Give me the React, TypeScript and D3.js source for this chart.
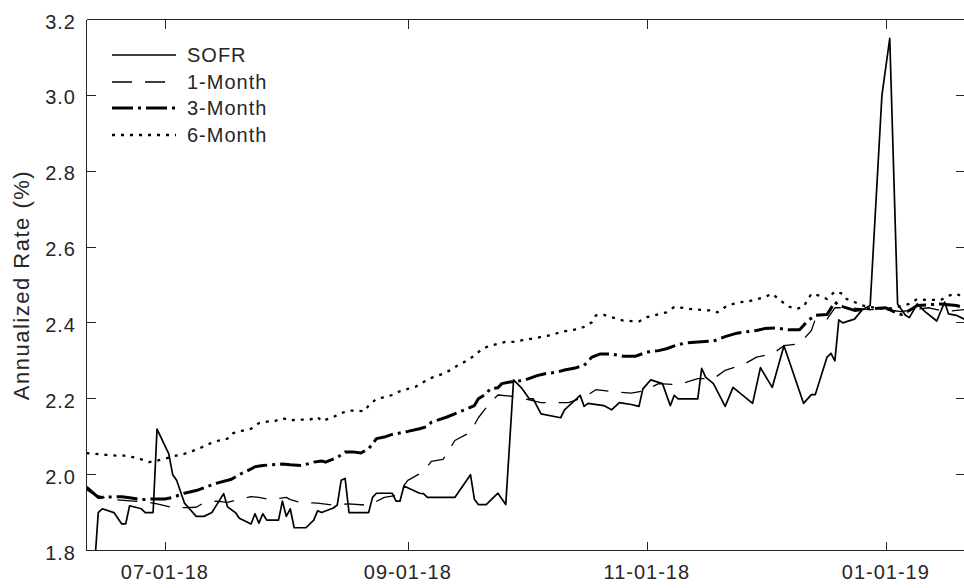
import React from "react";
import * as d3 from "d3";

// ---------- data ----------
const sofr: [string, number][] = [
  ["2018-06-11", 1.72], ["2018-06-12", 1.73], ["2018-06-13", 1.75], ["2018-06-14", 1.90],
  ["2018-06-15", 1.91], ["2018-06-18", 1.90], ["2018-06-20", 1.87], ["2018-06-21", 1.87],
  ["2018-06-22", 1.918], ["2018-06-25", 1.91], ["2018-06-26", 1.90], ["2018-06-27", 1.90],
  ["2018-06-28", 1.90], ["2018-06-29", 2.12], ["2018-07-02", 2.055], ["2018-07-03", 2.00],
  ["2018-07-04", 1.985], ["2018-07-06", 1.925], ["2018-07-09", 1.89], ["2018-07-11", 1.89],
  ["2018-07-13", 1.90], ["2018-07-16", 1.95], ["2018-07-17", 1.915], ["2018-07-19", 1.90],
  ["2018-07-20", 1.885], ["2018-07-23", 1.87], ["2018-07-24", 1.897], ["2018-07-25", 1.872],
  ["2018-07-26", 1.897], ["2018-07-27", 1.88], ["2018-07-30", 1.88], ["2018-07-31", 1.93],
  ["2018-08-01", 1.89], ["2018-08-02", 1.91], ["2018-08-03", 1.86], ["2018-08-06", 1.86],
  ["2018-08-08", 1.88], ["2018-08-09", 1.905], ["2018-08-10", 1.90], ["2018-08-13", 1.912],
  ["2018-08-14", 1.92], ["2018-08-15", 1.985], ["2018-08-16", 1.99], ["2018-08-17", 1.90],
  ["2018-08-22", 1.90], ["2018-08-23", 1.94], ["2018-08-24", 1.951], ["2018-08-28", 1.951],
  ["2018-08-29", 1.93], ["2018-08-30", 1.93], ["2018-08-31", 1.97], ["2018-09-04", 1.951],
  ["2018-09-05", 1.95], ["2018-09-06", 1.94], ["2018-09-13", 1.94], ["2018-09-17", 2.00],
  ["2018-09-18", 1.935], ["2018-09-19", 1.921], ["2018-09-21", 1.921], ["2018-09-24", 1.951],
  ["2018-09-26", 1.921], ["2018-09-28", 2.25], ["2018-09-30", 2.229], ["2018-10-02", 2.20],
  ["2018-10-03", 2.20], ["2018-10-05", 2.16], ["2018-10-10", 2.15], ["2018-10-11", 2.171],
  ["2018-10-15", 2.209], ["2018-10-16", 2.18], ["2018-10-17", 2.188], ["2018-10-21", 2.182],
  ["2018-10-23", 2.171], ["2018-10-25", 2.19], ["2018-10-28", 2.185], ["2018-10-30", 2.18],
  ["2018-10-31", 2.226], ["2018-11-02", 2.25], ["2018-11-05", 2.24], ["2018-11-07", 2.182],
  ["2018-11-08", 2.209], ["2018-11-09", 2.20], ["2018-11-14", 2.20], ["2018-11-15", 2.28],
  ["2018-11-16", 2.257], ["2018-11-18", 2.24], ["2018-11-21", 2.18], ["2018-11-23", 2.23],
  ["2018-11-28", 2.188], ["2018-11-30", 2.282], ["2018-12-03", 2.23], ["2018-12-06", 2.34],
  ["2018-12-11", 2.188], ["2018-12-13", 2.211], ["2018-12-14", 2.211], ["2018-12-17", 2.31],
  ["2018-12-18", 2.32], ["2018-12-19", 2.30], ["2018-12-20", 2.408], ["2018-12-21", 2.40],
  ["2018-12-24", 2.41], ["2018-12-26", 2.435], ["2018-12-28", 2.446], ["2018-12-31", 3.00],
  ["2019-01-02", 3.15], ["2019-01-04", 2.45], ["2019-01-06", 2.42], ["2019-01-07", 2.414],
  ["2019-01-09", 2.45], ["2019-01-11", 2.43], ["2019-01-14", 2.405], ["2019-01-16", 2.455],
  ["2019-01-17", 2.424], ["2019-01-19", 2.42], ["2019-01-21", 2.41],
];

const oneMonth: [string, number][] = [
  ["2018-06-11", 1.96], ["2018-06-13", 1.947], ["2018-06-17", 1.935], ["2018-06-23", 1.93],
  ["2018-06-27", 1.927], ["2018-06-29", 1.923], ["2018-07-03", 1.913], ["2018-07-06", 1.913],
  ["2018-07-09", 1.914], ["2018-07-11", 1.926], ["2018-07-14", 1.93], ["2018-07-17", 1.927],
  ["2018-07-19", 1.932], ["2018-07-23", 1.942], ["2018-07-25", 1.94], ["2018-07-28", 1.934],
  ["2018-08-01", 1.94], ["2018-08-02", 1.934], ["2018-08-05", 1.926], ["2018-08-09", 1.925],
  ["2018-08-12", 1.921], ["2018-08-17", 1.923], ["2018-08-22", 1.919], ["2018-08-26", 1.94],
  ["2018-08-29", 1.945], ["2018-09-01", 1.985], ["2018-09-05", 2.008], ["2018-09-07", 2.035],
  ["2018-09-10", 2.04], ["2018-09-11", 2.055], ["2018-09-13", 2.09], ["2018-09-17", 2.112],
  ["2018-09-19", 2.15], ["2018-09-22", 2.19], ["2018-09-24", 2.21], ["2018-09-29", 2.205],
  ["2018-10-02", 2.197], ["2018-10-05", 2.19], ["2018-10-08", 2.19], ["2018-10-12", 2.19],
  ["2018-10-16", 2.204], ["2018-10-19", 2.224], ["2018-10-24", 2.218], ["2018-10-28", 2.215],
  ["2018-10-31", 2.22], ["2018-11-04", 2.24], ["2018-11-09", 2.237], ["2018-11-14", 2.253],
  ["2018-11-18", 2.253], ["2018-11-21", 2.275], ["2018-11-26", 2.292], ["2018-11-29", 2.31],
  ["2018-12-03", 2.318], ["2018-12-06", 2.34], ["2018-12-10", 2.345], ["2018-12-13", 2.38],
  ["2018-12-14", 2.41], ["2018-12-17", 2.41], ["2018-12-19", 2.44], ["2018-12-23", 2.44],
  ["2018-12-28", 2.435], ["2019-01-01", 2.435], ["2019-01-05", 2.43], ["2019-01-08", 2.435],
  ["2019-01-12", 2.44], ["2019-01-16", 2.43], ["2019-01-21", 2.435],
];

const threeMonth: [string, number][] = [
  ["2018-06-11", 1.967], ["2018-06-14", 1.94], ["2018-06-20", 1.942], ["2018-06-22", 1.939],
  ["2018-06-25", 1.934], ["2018-06-28", 1.936], ["2018-07-01", 1.936], ["2018-07-03", 1.94],
  ["2018-07-06", 1.951], ["2018-07-09", 1.958], ["2018-07-12", 1.969], ["2018-07-14", 1.977],
  ["2018-07-18", 1.988], ["2018-07-20", 2.0], ["2018-07-23", 2.015], ["2018-07-24", 2.021],
  ["2018-07-26", 2.024], ["2018-07-28", 2.026], ["2018-07-31", 2.028], ["2018-08-02", 2.026],
  ["2018-08-05", 2.024], ["2018-08-08", 2.033], ["2018-08-10", 2.036], ["2018-08-11", 2.033],
  ["2018-08-14", 2.045], ["2018-08-16", 2.06], ["2018-08-18", 2.06], ["2018-08-20", 2.057],
  ["2018-08-22", 2.068], ["2018-08-24", 2.095], ["2018-08-26", 2.099], ["2018-08-28", 2.106],
  ["2018-08-30", 2.11], ["2018-09-01", 2.114], ["2018-09-04", 2.121], ["2018-09-06", 2.127],
  ["2018-09-07", 2.138], ["2018-09-09", 2.145], ["2018-09-11", 2.152], ["2018-09-15", 2.169],
  ["2018-09-16", 2.173], ["2018-09-18", 2.182], ["2018-09-19", 2.20], ["2018-09-21", 2.213],
  ["2018-09-22", 2.226], ["2018-09-24", 2.229], ["2018-09-25", 2.24], ["2018-09-27", 2.244],
  ["2018-09-30", 2.248], ["2018-10-01", 2.25], ["2018-10-04", 2.261], ["2018-10-06", 2.266],
  ["2018-10-09", 2.27], ["2018-10-11", 2.276], ["2018-10-14", 2.282], ["2018-10-16", 2.288],
  ["2018-10-18", 2.31], ["2018-10-20", 2.318], ["2018-10-23", 2.318], ["2018-10-26", 2.312],
  ["2018-10-29", 2.312], ["2018-11-01", 2.323], ["2018-11-04", 2.327], ["2018-11-06", 2.332],
  ["2018-11-09", 2.343], ["2018-11-11", 2.347], ["2018-11-14", 2.35], ["2018-11-18", 2.352],
  ["2018-11-21", 2.364], ["2018-11-24", 2.373], ["2018-11-26", 2.376], ["2018-11-29", 2.38],
  ["2018-12-01", 2.385], ["2018-12-04", 2.387], ["2018-12-07", 2.382], ["2018-12-10", 2.382],
  ["2018-12-12", 2.405], ["2018-12-14", 2.42], ["2018-12-17", 2.422], ["2018-12-19", 2.455],
  ["2018-12-20", 2.446], ["2018-12-24", 2.433], ["2018-12-27", 2.437], ["2019-01-01", 2.44],
  ["2019-01-03", 2.43], ["2019-01-05", 2.422], ["2019-01-07", 2.433], ["2019-01-09", 2.446],
  ["2019-01-12", 2.448], ["2019-01-15", 2.45], ["2019-01-19", 2.446], ["2019-01-21", 2.44],
];

const sixMonth: [string, number][] = [
  ["2018-06-11", 2.057], ["2018-06-13", 2.055], ["2018-06-16", 2.052], ["2018-06-19", 2.05],
  ["2018-06-21", 2.05], ["2018-06-24", 2.044], ["2018-06-26", 2.037], ["2018-06-27", 2.033],
  ["2018-06-29", 2.037], ["2018-07-01", 2.042], ["2018-07-03", 2.048], ["2018-07-06", 2.055],
  ["2018-07-08", 2.062], ["2018-07-10", 2.07], ["2018-07-12", 2.08], ["2018-07-14", 2.088],
  ["2018-07-17", 2.095], ["2018-07-18", 2.108], ["2018-07-20", 2.114], ["2018-07-23", 2.121],
  ["2018-07-25", 2.136], ["2018-07-28", 2.141], ["2018-07-29", 2.141], ["2018-07-31", 2.149],
  ["2018-08-02", 2.143], ["2018-08-04", 2.145], ["2018-08-07", 2.145], ["2018-08-09", 2.152],
  ["2018-08-10", 2.141], ["2018-08-13", 2.152], ["2018-08-15", 2.162], ["2018-08-17", 2.169],
  ["2018-08-19", 2.169], ["2018-08-21", 2.167], ["2018-08-22", 2.182], ["2018-08-24", 2.20],
  ["2018-08-26", 2.204], ["2018-08-28", 2.21], ["2018-08-30", 2.22], ["2018-09-01", 2.226],
  ["2018-09-03", 2.232], ["2018-09-05", 2.244], ["2018-09-07", 2.255], ["2018-09-10", 2.266],
  ["2018-09-12", 2.276], ["2018-09-14", 2.29], ["2018-09-16", 2.30], ["2018-09-18", 2.314],
  ["2018-09-20", 2.332], ["2018-09-22", 2.34], ["2018-09-24", 2.345], ["2018-09-26", 2.35],
  ["2018-09-28", 2.35], ["2018-09-30", 2.354], ["2018-10-04", 2.361], ["2018-10-08", 2.369],
  ["2018-10-10", 2.376], ["2018-10-12", 2.38], ["2018-10-15", 2.385], ["2018-10-16", 2.39],
  ["2018-10-18", 2.402], ["2018-10-19", 2.42], ["2018-10-21", 2.421], ["2018-10-23", 2.415],
  ["2018-10-26", 2.406], ["2018-10-28", 2.405], ["2018-10-30", 2.404], ["2018-11-01", 2.415],
  ["2018-11-03", 2.42], ["2018-11-06", 2.428], ["2018-11-08", 2.442], ["2018-11-10", 2.44],
  ["2018-11-12", 2.437], ["2018-11-15", 2.434], ["2018-11-17", 2.433], ["2018-11-19", 2.428],
  ["2018-11-21", 2.442], ["2018-11-23", 2.45], ["2018-11-25", 2.455], ["2018-11-27", 2.457],
  ["2018-12-01", 2.468], ["2018-12-03", 2.477], ["2018-12-05", 2.46], ["2018-12-07", 2.444],
  ["2018-12-09", 2.437], ["2018-12-11", 2.442], ["2018-12-12", 2.46], ["2018-12-13", 2.477],
  ["2018-12-15", 2.472], ["2018-12-17", 2.463], ["2018-12-19", 2.483], ["2018-12-21", 2.477],
  ["2018-12-22", 2.463], ["2018-12-24", 2.455], ["2018-12-26", 2.446], ["2018-12-29", 2.44],
  ["2019-01-01", 2.437], ["2019-01-03", 2.44], ["2019-01-05", 2.445], ["2019-01-07", 2.45],
  ["2019-01-09", 2.463], ["2019-01-11", 2.461], ["2019-01-13", 2.461], ["2019-01-15", 2.46],
  ["2019-01-17", 2.472], ["2019-01-19", 2.477], ["2019-01-21", 2.467],
];

const xDomain: [string, string] = ["2018-06-11", "2019-01-21"];
const xTickDates = ["2018-07-01", "2018-09-01", "2018-11-01", "2019-01-01"];
const yTicks = [1.8, 2.0, 2.2, 2.4, 2.6, 2.8, 3.0, 3.2];
const legendLabels = ["SOFR", "1-Month", "3-Month", "6-Month"];

// ---------- layout ----------
const W = 964;
const H = 588;
const L = 86.5;
const R = 964.5;
const T = 19.5;
const B = 550.5;
const FONT = "'Liberation Sans', Arial, Helvetica, sans-serif";
const AX = "#262626";

const parse = d3.timeParse("%Y-%m-%d");
const fmt = d3.timeFormat("%m-%d-%y");

const styles = [
  { width: 1.7, dash: "none" },
  { width: 1.3, dash: "20 13" },
  { width: 3, dash: "21 5 3 5" },
  { width: 2.3, dash: "3 6" },
];

export default function App() {
  const x = d3
    .scaleTime()
    .domain([parse(xDomain[0])!, parse(xDomain[1])!])
    .range([L, R - 0.3]);
  const y = d3.scaleLinear().domain([1.8, 3.2]).range([B, T]);

  const line = d3
    .line<[string, number]>()
    .x((d) => x(parse(d[0])!))
    .y((d) => y(d[1]));

  const series = [sofr, oneMonth, threeMonth, sixMonth];
  const tickLen = 9;

  return (
    <svg
      width={W}
      height={H}
      style={{ position: "fixed", left: 0, top: 0, background: "#fff" }}
      fontFamily={FONT}
    >
      <rect x={0} y={0} width={W} height={H} fill="#fff" />
      <defs>
        <clipPath id="plot">
          <rect x={L} y={T} width={R - L} height={B - T} />
        </clipPath>
      </defs>

      <g clipPath="url(#plot)">
        {series.map((s, i) => (
          <path
            key={i}
            d={line(s) || ""}
            fill="none"
            stroke="#000"
            strokeWidth={styles[i].width}
            strokeDasharray={styles[i].dash}
            strokeLinejoin="round"
          />
        ))}
      </g>

      {/* axes box */}
      <g stroke={AX} strokeWidth={1} shapeRendering="crispEdges" fill="none">
        <line x1={L} x2={R} y1={B} y2={B} />
        <line x1={L} x2={R} y1={T} y2={T} />
        <line x1={L} x2={L} y1={T} y2={B} />
        <line x1={R} x2={R} y1={T} y2={B} />
        {xTickDates.map((t) => {
          const px = Math.round(x(parse(t)!)) + 0.5;
          return (
            <g key={t}>
              <line x1={px} x2={px} y1={B} y2={B - tickLen} />
              <line x1={px} x2={px} y1={T} y2={T + tickLen} />
            </g>
          );
        })}
        {yTicks.map((t) => {
          const py = Math.round(y(t) - 0.5) + 0.5;
          return (
            <g key={t}>
              <line x1={L} x2={L + tickLen} y1={py} y2={py} />
              <line x1={R} x2={R - tickLen} y1={py} y2={py} />
            </g>
          );
        })}
      </g>

      {/* tick labels */}
      <g fill={AX} fontSize={20} letterSpacing={1}>
        {xTickDates.map((t) => (
          <text key={t} x={x(parse(t)!)} y={579} textAnchor="middle">
            {fmt(parse(t)!)}
          </text>
        ))}
        {yTicks.map((t) => (
          <text key={t} x={76} y={y(t) + 9} textAnchor="end">
            {d3.format(".1f")(t)}
          </text>
        ))}
      </g>
      <text
        transform={`translate(29, ${(T + B) / 2}) rotate(-90)`}
        textAnchor="middle"
        fill={AX}
        fontSize={22}
        letterSpacing={1.5}
      >
        Annualized Rate (%)
      </text>

      {/* legend */}
      <g>
        {legendLabels.map((lab, i) => {
          const ly = [55, 82, 108, 135][i];
          return (
            <g key={lab}>
              <line
                x1={112}
                x2={176}
                y1={ly}
                y2={ly}
                stroke="#000"
                strokeWidth={styles[i].width}
                strokeDasharray={styles[i].dash}
              />
              <text x={187} y={ly + 7} fontSize={20} fill={AX} letterSpacing={1}>
                {lab}
              </text>
            </g>
          );
        })}
      </g>
    </svg>
  );
}
